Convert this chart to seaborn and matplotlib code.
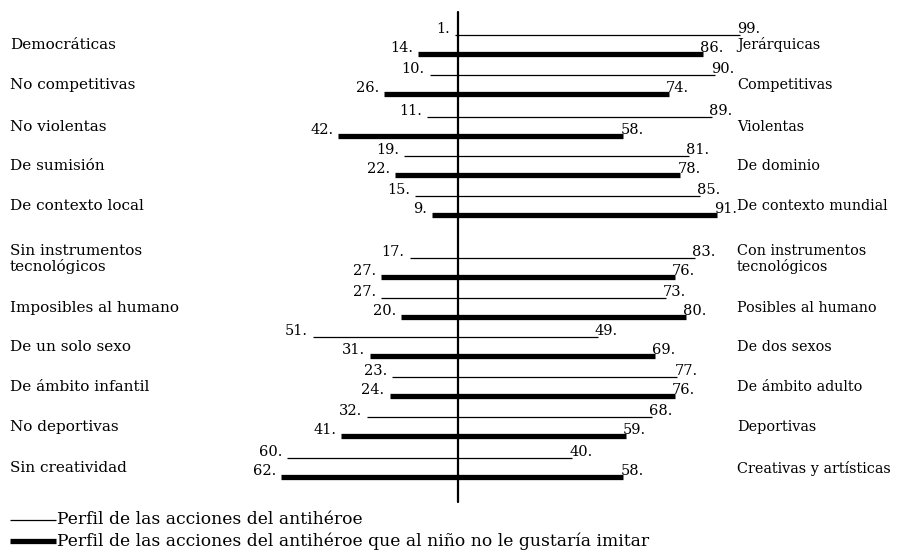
import matplotlib
matplotlib.use("Agg")
import matplotlib.pyplot as plt
import seaborn as sns
import pandas as pd

# ---- data ----
left_cats = ["Democráticas", "No competitivas", "No violentas", "De sumisión",
             "De contexto local", "Sin instrumentos\ntecnológicos", "Imposibles al humano",
             "De un solo sexo", "De ámbito infantil", "No deportivas", "Sin creatividad"]
right_cats = ["Jerárquicas", "Competitivas", "Violentas", "De dominio",
              "De contexto mundial", "Con instrumentos\ntecnológicos", "Posibles al humano",
              "De dos sexos", "De ámbito adulto", "Deportivas", "Creativas y artísticas"]
thin_left = [1, 10, 11, 19, 15, 17, 27, 51, 23, 32, 60]
thin_right = [99, 90, 89, 81, 85, 83, 73, 49, 77, 68, 40]
thick_left = [14, 26, 42, 22, 9, 27, 20, 31, 24, 41, 62]
thick_right = [86, 74, 58, 78, 91, 76, 80, 69, 76, 59, 58]
legend_labels = ["Perfil de las acciones del antihéroe",
                 "Perfil de las acciones del antihéroe que al niño no le gustaría imitar"]

# ---- layout ----
W, H = 898, 556
CX = 458.0     # pixel of the centre axis
S = 2.85       # pixels per unit
mids = [45, 85, 127, 166, 206, 268, 308, 347, 387, 427, 468]

sns.set_theme(style="white")
plt.rcParams["font.family"] = ["DejaVu Serif"]
FS_NUM = 10.5
FS_LEFT = 11
FS_RIGHT = 10.4
FS_LEG = 12.3

fig = plt.figure(figsize=(W / 100, H / 100), dpi=100)
ax = fig.add_axes([0, 0, 1, 1])
ax.set_xlim(-CX / S, (W - CX) / S)
ax.set_ylim(H, 0)
ax.axis("off")

def px(x):
    return (x - CX) / S

recs = []
for i in range(len(left_cats)):
    for serie, L, R, dy in (("thin", thin_left, thin_right, -10), ("thick", thick_left, thick_right, 9)):
        y = mids[i] + dy
        recs.append(dict(seg=f"{i}-{serie}", serie=serie, x=-L[i], y=y))
        recs.append(dict(seg=f"{i}-{serie}", serie=serie, x=R[i], y=y))
df = pd.DataFrame(recs)

sns.lineplot(data=df, x="x", y="y", units="seg", estimator=None, sort=False,
             size="serie", sizes={"thin": 0.9, "thick": 3.8}, color="black",
             legend=False, ax=ax, solid_capstyle="butt")

# centre axis
ax.plot([0, 0], [12, 502], color="black", lw=1.6)

# value labels
for i in range(len(left_cats)):
    for L, R, dy in ((thin_left, thin_right, -10), (thick_left, thick_right, 9)):
        y = mids[i] + dy - 6
        ax.text(-L[i] - 5 / S, y, f"{L[i]}.", ha="right", va="center", fontsize=FS_NUM, color="black")
        ax.text(R[i] - 3 / S, y, f"{R[i]}.", ha="left", va="center", fontsize=FS_NUM, color="black")

# category labels
for i in range(len(left_cats)):
    y = mids[i] - (9 if "\n" in left_cats[i] else 0)
    ax.text(px(10), y, left_cats[i], ha="left", va="center", fontsize=FS_LEFT,
            color="black", linespacing=1.05)
    ax.text(px(737), y, right_cats[i], ha="left", va="center", fontsize=FS_RIGHT,
            color="black", linespacing=1.05)

# legend
for k, (lw, yy) in enumerate(((0.9, 520), (3.8, 541))):
    ax.plot([px(10), px(56)], [yy, yy], color="black", lw=lw, solid_capstyle="butt")
    ax.text(px(57), yy, legend_labels[k], ha="left", va="center", fontsize=FS_LEG, color="black")

fig.savefig("out.png", dpi=100, facecolor="white")
